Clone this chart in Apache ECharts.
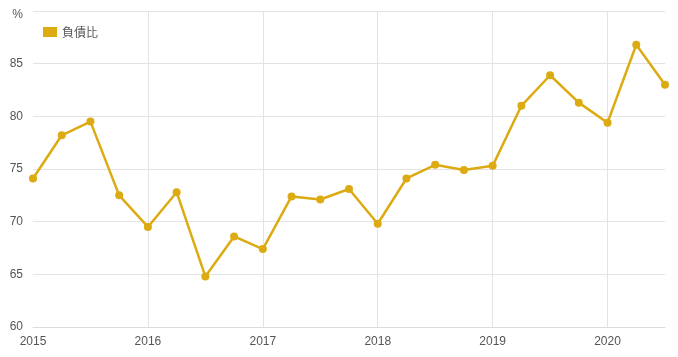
<!DOCTYPE html>
<html>
<head>
<meta charset="utf-8">
<script src="https://cdn.jsdelivr.net/npm/echarts@6/dist/echarts.min.js"></script>
<style>
html,body{margin:0;padding:0;background:#fff;}
#chart{width:678px;height:357px;}
</style>
</head>
<body>
<div id="chart"></div>
<script>
var seriesName = '負債比';
var quarters = ['2015-01','2015-04','2015-07','2015-10','2016-01','2016-04','2016-07','2016-10',
  '2017-01','2017-04','2017-07','2017-10','2018-01','2018-04','2018-07','2018-10',
  '2019-01','2019-04','2019-07','2019-10','2020-01','2020-04','2020-07'];
var values = [74.1,78.2,79.5,72.5,69.5,72.8,64.8,68.6,
  67.4,72.4,72.1,73.1,69.8,74.1,75.4,74.9,
  75.3,81.0,83.9,81.3,79.4,86.8,83.0];
var yTicks = [60,65,70,75,80,85,90];
var xYears = [2015,2016,2017,2018,2019,2020];

function toYear(q){ var p=q.split('-'); return +p[0] + (+p[1]-1)/12; }
var data = quarters.map(function(q,i){ return [toYear(q), values[i]]; });

var chart = echarts.init(document.getElementById('chart'));
var font = 'Liberation Sans, Arial, sans-serif';
chart.setOption({
  animation:false,
  textStyle:{fontFamily:font},
  grid:{left:33,right:13,top:11,bottom:30,containLabel:false},
  legend:{
    data:[seriesName], left:38, top:21, itemWidth:14, itemHeight:10, itemGap:10,
    icon:'rect',
    textStyle:{color:'#555',fontSize:12,fontFamily:'Noto Sans CJK TC, sans-serif'}
  },
  xAxis:{
    type:'value', min:xYears[0], max:2020.5, interval:1,
    axisLine:{show:true,lineStyle:{color:'#dcdcdc'}},
    axisTick:{show:false},
    axisLabel:{color:'#555',fontSize:12,margin:9,showMaxLabel:false,
      formatter:function(v){ return xYears.indexOf(v)>=0 ? String(v) : ''; }},
    splitLine:{show:true,showMinLine:false,showMaxLine:false,lineStyle:{color:'#e3e3e3'}}
  },
  yAxis:{
    type:'value', min:yTicks[0], max:yTicks[yTicks.length-1], interval:5,
    axisLine:{show:false}, axisTick:{show:false},
    axisLabel:{color:'#555',fontSize:12,margin:10,
      formatter:function(v){ return v===90 ? '{p|%}' : String(v); },
      rich:{p:{color:'#555',fontSize:12,padding:[8,0,0,0]}}},
    splitLine:{show:true,lineStyle:{color:'#e3e3e3'}}
  },
  series:[{
    name:seriesName, type:'line', data:data,
    symbol:'circle', symbolSize:8,
    itemStyle:{color:'#dcab12'},
    lineStyle:{color:'#dcab12',width:2.5}
  }]
});
</script>
</body>
</html>
